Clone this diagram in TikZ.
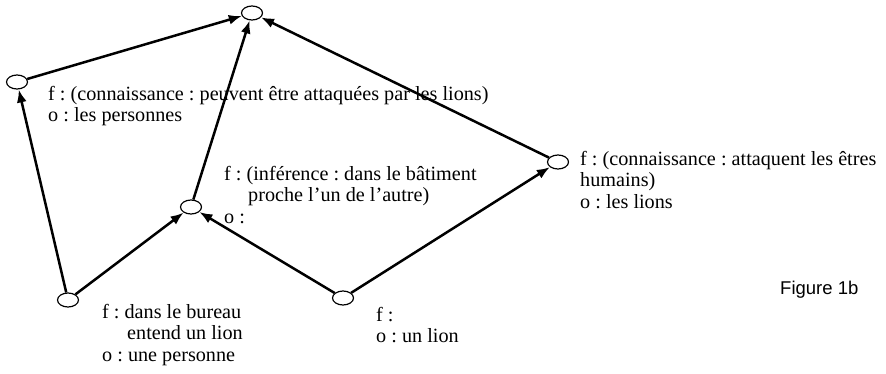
\documentclass[tikz,border=0pt]{standalone}
\usepackage{fontspec}
\setmainfont{Liberation Serif}
\newfontfamily\figfont{Liberation Sans}
\usetikzlibrary{shapes.geometric,arrows.meta}
\newcommand{\labfont}{\fontsize{20.2}{21.5}\selectfont}
\begin{document}
\frenchspacing
\begin{tikzpicture}[x=1pt,y=-1pt,
  vert/.style={ellipse,draw,line width=1.2pt,minimum width=21pt,minimum height=14pt,inner sep=0pt,fill=white},
  lab/.style={anchor=north west,inner sep=0pt,align=left,font=\labfont},
  arc/.style={line width=2.5pt,-{Latex[length=13pt,width=10pt]}}]
\useasboundingbox (0,0) rectangle (886,374);
\node[lab] (tL) at (48,86) {f : (connaissance : peuvent être attaquées par les lions)\\o : les personnes};
\node[lab] (tM) at (224,166) {f : (inférence : dans le bâtiment\\\hspace*{24pt}proche l’un de l’autre)\\o :};
\node[lab] (tR) at (580,151) {f : (connaissance : attaquent les êtres\\humains)\\o : les lions};
\node[lab] (tBL) at (102,304) {f : dans le bureau\\\hspace*{25pt}entend un lion\\o : une personne};
\node[lab] (tBM) at (376,307) {f :\\o : un lion};
\node[anchor=west,inner sep=0pt,font=\figfont\fontsize{18.5}{20}\selectfont] (fig) at (780,290) {Figure 1b};
\node[vert] (T) at (252,13) {};
\node[vert] (L) at (17,82) {};
\node[vert] (M) at (191,207) {};
\node[vert] (R) at (558,162) {};
\node[vert] (BL) at (68,300) {};
\node[vert] (BM) at (343,298) {};
\draw[arc] (L) -- (T);
\draw[arc] (M) -- (T);
\draw[arc] (R) -- (T);
\draw[arc] (BL) -- (L);
\draw[arc] (BL) -- (M);
\draw[arc] (BM) -- (M);
\draw[arc] (BM) -- (R);
\end{tikzpicture}
\end{document}
